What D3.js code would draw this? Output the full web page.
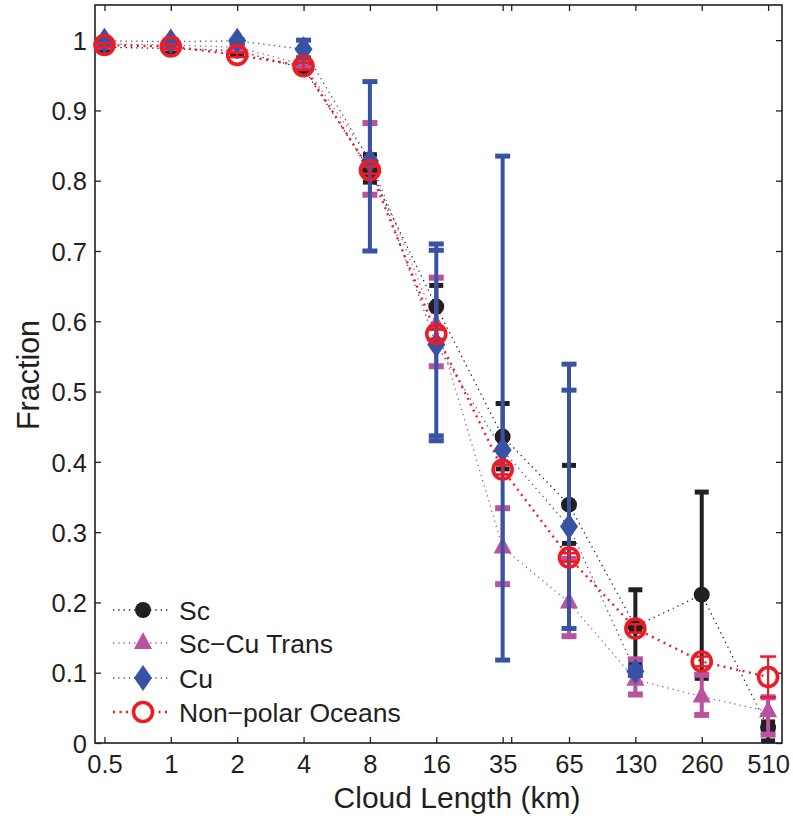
<!DOCTYPE html>
<html>
<head>
<meta charset="utf-8">
<script src="https://cdnjs.cloudflare.com/ajax/libs/d3/7.8.5/d3.min.js"></script>
<style>
  body { margin: 0; background: #fff; }
  text { font-family: "Liberation Sans", Arial, sans-serif; fill: #231f20; }
</style>
</head>
<body>
<svg id="chart"></svg>
<script>
let w = 793;
let h = 818;

// cloud length bins (km, plotted on a log2 axis) and their labels
let lengths = [0.5, 1, 2, 4, 8, 16, 32, 64, 128, 256, 512];
let lengthLabels = ["0.5", "1", "2", "4", "8", "16", "35", "65", "130", "260", "510"];
let extraTicks = [35];
let yTicks = [0, 0.1, 0.2, 0.3, 0.4, 0.5, 0.6, 0.7, 0.8, 0.9, 1];

let scVals = [0.99, 0.988, 0.985, 0.96, 0.815, 0.621, 0.436, 0.339, 0.166, 0.211, 0.022];
let scLo   = [0.986, 0.984, 0.981, 0.955, 0.798, 0.59, 0.39, 0.284, 0.114, 0.092, 0.003];
let scHi   = [0.994, 0.992, 0.989, 0.965, 0.837, 0.651, 0.483, 0.395, 0.218, 0.357, 0.03];

let transVals = [0.995, 0.993, 0.99, 0.965, 0.83, 0.595, 0.278, 0.2, 0.09, 0.066, 0.045];
let transLo   = [0.991, 0.989, 0.985, 0.96, 0.78, 0.536, 0.226, 0.152, 0.069, 0.04, 0.012];
let transHi   = [0.999, 0.997, 0.995, 0.97, 0.882, 0.662, 0.334, 0.262, 0.119, 0.097, 0.065];

let cuVals = [0.999, 0.998, 0.999, 0.987, 0.828, 0.567, 0.417, 0.308, 0.102, null, null];
let cuLo   = [0.996, 0.995, 0.996, 0.975, 0.70, 0.43, 0.118, 0.163, 0.096, null, null];
let cuHi   = [1.0, 1.0, 1.0, 1.0, 0.941, 0.71, 0.835, 0.539, 0.108, null, null];
let cuLo2  = [null, null, null, null, null, 0.437, null, null, null, null, null];
let cuHi2  = [null, null, null, null, null, 0.701, null, 0.502, null, null, null];

let npVals = [0.993, 0.991, 0.979, 0.963, 0.815, 0.582, 0.389, 0.264, 0.163, 0.116, 0.094];
let npLo   = [0.99, 0.988, 0.976, 0.958, 0.81, 0.575, 0.382, 0.258, 0.157, 0.109, 0.065];
let npHi   = [0.996, 0.994, 0.982, 0.968, 0.82, 0.589, 0.396, 0.27, 0.169, 0.123, 0.123];

let seriesNames = ["Sc", "Sc\u2212Cu Trans", "Cu", "Non\u2212polar Oceans"];

let black = "#231f20";
let pink = "#b8539f";
let blue = "#3953a4";
let red = "#ed1c24";

let svg = d3.select("#chart").attr("width", w).attr("height", h);

let pLeft = 95, pRight = 782, pTop = 5, pBottom = 743;

let xScale = d3.scaleLog().base(2).domain([0.453, 592]).range([pLeft, pRight]);
let yScale = d3.scaleLinear().domain([0, 1.05]).range([pBottom, pTop]);

// axes box
svg.append("rect")
   .attr("x", pLeft).attr("y", pTop)
   .attr("width", pRight - pLeft).attr("height", pBottom - pTop)
   .attr("fill", "none").attr("stroke", black).attr("stroke-width", 1.6);

let xAxis = d3.axisBottom(xScale)
              .tickValues(lengths.concat(extraTicks))
              .tickSizeInner(-6).tickSizeOuter(0)
              .tickFormat((d) => {
                  let i = lengths.indexOf(d);
                  return i >= 0 ? lengthLabels[i] : "";
              });
let xAxisTop = d3.axisTop(xScale)
              .tickValues(lengths.concat(extraTicks))
              .tickSizeInner(-6).tickSizeOuter(0)
              .tickFormat("");
let yAxis = d3.axisLeft(yScale)
              .tickValues(yTicks)
              .tickSizeInner(-6).tickSizeOuter(0)
              .tickFormat((d) => d === 0 || d === 1 ? String(d) : d3.format(".1f")(d));
let yAxisRight = d3.axisRight(yScale)
              .tickValues(yTicks)
              .tickSizeInner(-6).tickSizeOuter(0)
              .tickFormat("");

let gx = svg.append("g").attr("transform", `translate(0, ${pBottom})`).call(xAxis);
svg.append("g").attr("transform", `translate(0, ${pTop})`).call(xAxisTop);
let gy = svg.append("g").attr("transform", `translate(${pLeft}, 0)`).call(yAxis);
svg.append("g").attr("transform", `translate(${pRight}, 0)`).call(yAxisRight);

svg.selectAll(".domain").remove();
svg.selectAll(".tick line").attr("stroke", black).attr("stroke-width", 1.3);
gx.selectAll(".tick text")
  .attr("font-size", 25.5).attr("dy", "0").attr("y", 30)
  .style("font-family", "'Liberation Sans', Arial, sans-serif").attr("fill", black);
gy.selectAll(".tick text")
  .attr("font-size", 25.5).attr("x", -8).attr("dy", "0.36em")
  .style("font-family", "'Liberation Sans', Arial, sans-serif").attr("fill", black);

svg.append("text")
   .attr("x", 457).attr("y", 808)
   .attr("text-anchor", "middle").attr("font-size", 30)
   .text("Cloud Length (km)");

svg.append("text")
   .attr("transform", `translate(39, 375) rotate(-90)`)
   .attr("text-anchor", "middle").attr("font-size", 30.5)
   .text("Fraction");

let plot = svg.append("g");

let lineGen = d3.line()
                .defined((d) => d[1] !== null)
                .x((d) => xScale(d[0]))
                .y((d) => yScale(d[1]));

let pairs = (vals) => lengths.map((x, i) => [x, vals[i]]);

// dotted connecting lines
let lines = [
  {vals: scVals, color: black, width: 1.3, dash: "1.3,4"},
  {vals: transVals, color: pink, width: 1.3, dash: "1.3,4"},
  {vals: cuVals, color: blue, width: 1.3, dash: "1.3,4"},
  {vals: npVals, color: red, width: 2.4, dash: "2,4.5"}
];
lines.forEach((s) => {
  plot.append("path")
      .datum(pairs(s.vals))
      .attr("d", lineGen)
      .attr("fill", "none")
      .attr("stroke", s.color)
      .attr("stroke-width", s.width)
      .attr("stroke-dasharray", s.dash);
});

let drawCaps = (vals, color, capW, capH) => {
  let idx = lengths.map((d, i) => i).filter((i) => vals[i] !== null);
  plot.append("g").selectAll("rect")
      .data(idx).enter().append("rect")
      .attr("x", (i) => xScale(lengths[i]) - capW / 2)
      .attr("y", (i) => yScale(vals[i]) - capH / 2)
      .attr("width", capW).attr("height", capH)
      .attr("fill", color);
};

let drawErr = (lo, hi, color, lw, capW, capH) => {
  let idx = lengths.map((d, i) => i).filter((i) => lo[i] !== null && hi[i] !== null);
  plot.append("g").selectAll("line")
      .data(idx).enter().append("line")
      .attr("x1", (i) => xScale(lengths[i])).attr("x2", (i) => xScale(lengths[i]))
      .attr("y1", (i) => yScale(lo[i])).attr("y2", (i) => yScale(hi[i]))
      .attr("stroke", color).attr("stroke-width", lw);
  drawCaps(lo, color, capW, capH);
  drawCaps(hi, color, capW, capH);
};

let drawMarkers = (vals, shape, color) => {
  let idx = lengths.map((d, i) => i).filter((i) => vals[i] !== null);
  plot.append("g").selectAll("path")
      .data(idx).enter().append("path")
      .attr("transform", (i) => `translate(${xScale(lengths[i])}, ${yScale(vals[i])})`)
      .attr("d", shape)
      .attr("fill", color);
};

let circlePath = d3.symbol().type(d3.symbolCircle).size(200)();
let trianglePath = "M0,-11 L9,6 L-9,6 Z";
let diamondPath = "M0,-13 L9,0 L0,13 L-9,0 Z";

// Sc
drawErr(scLo, scHi, black, 4, 14, 5);
drawMarkers(scVals, circlePath, black);
// Sc-Cu transition
drawErr(transLo, transHi, pink, 4, 15, 6);
drawMarkers(transVals, trianglePath, pink);
// Cu
drawErr(cuLo, cuHi, blue, 4, 15, 5);
drawCaps(cuLo2, blue, 15, 5);
drawCaps(cuHi2, blue, 15, 5);
drawMarkers(cuVals, diamondPath, blue);
// Non-polar oceans
drawErr(npLo, npHi, red, 2.2, 16, 2.5);
plot.append("g").selectAll("circle")
    .data(lengths.map((d, i) => i)).enter().append("circle")
    .attr("cx", (i) => xScale(lengths[i]))
    .attr("cy", (i) => yScale(npVals[i]))
    .attr("r", 9.5)
    .attr("fill", "none")
    .attr("stroke", red)
    .attr("stroke-width", 3.6);

// legend
let legendY = [610, 643, 678, 712];
let legendInfo = [
  {color: black, width: 1.3, dash: "1.3,4", shape: circlePath},
  {color: pink, width: 1.3, dash: "1.3,4", shape: trianglePath},
  {color: blue, width: 1.3, dash: "1.3,4", shape: diamondPath},
  {color: red, width: 2.4, dash: "2,4.5", shape: null}
];
let legend = svg.append("g");
legendInfo.forEach((d, i) => {
  let y = legendY[i];
  legend.append("line")
        .attr("x1", 113).attr("x2", 168).attr("y1", y).attr("y2", y)
        .attr("stroke", d.color).attr("stroke-width", d.width)
        .attr("stroke-dasharray", d.dash);
  if (d.shape) {
    legend.append("path")
          .attr("transform", `translate(143, ${y})`)
          .attr("d", d.shape).attr("fill", d.color);
  } else {
    legend.append("circle")
          .attr("cx", 143).attr("cy", y).attr("r", 9.5)
          .attr("fill", "white").attr("stroke", red).attr("stroke-width", 3.6);
  }
  legend.append("text")
        .attr("x", 179).attr("y", y).attr("dy", "0.36em")
        .attr("font-size", 26.5)
        .text(seriesNames[i]);
});
</script>
</body>
</html>
